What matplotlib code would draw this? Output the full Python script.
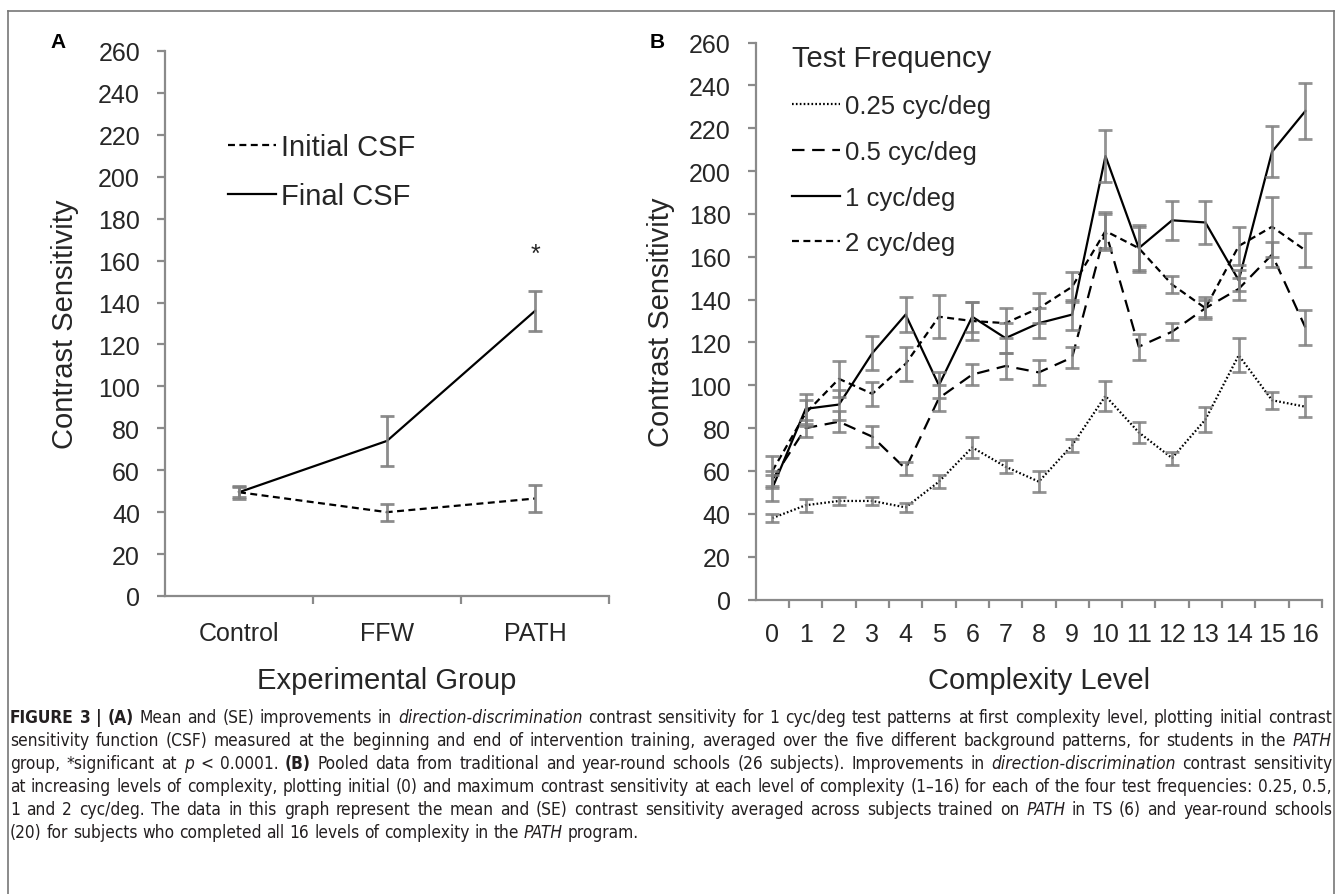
import matplotlib
matplotlib.use('Agg')
import matplotlib.pyplot as plt
from matplotlib.ticker import FixedLocator
from matplotlib.lines import Line2D
from matplotlib import font_manager

# ---------------- data ----------------
groups = ['Control', 'FFW', 'PATH']
initial_csf = [49.5, 40, 46.5]
initial_err = [3, 4, 6.5]
final_csf = [49.5, 74, 136]
final_err = [2.5, 12, 9.5]

levels = list(range(17))
cs_025 = [38, 44, 46, 46, 43, 55, 71, 62, 55, 72, 95, 78, 66, 84, 114, 93, 90]
err_025 = [2, 3, 2, 2, 2, 3, 5, 3, 5, 3, 7, 5, 3, 6, 8, 4, 5]
cs_05 = [56, 80, 83, 76, 61, 94, 105, 109, 106, 113, 172, 118, 125, 136, 145, 161, 127]
err_05 = [4, 4, 5, 5, 3, 6, 5, 6, 6, 5, 8, 6, 4, 4, 5, 6, 8]
cs_1 = [52, 89, 91, 115, 133, 100, 132, 122, 129, 133, 207, 164, 177, 176, 149, 209, 228]
err_1 = [6, 7, 7, 8, 8, 6, 7, 7, 7, 7, 12, 11, 9, 10, 5, 12, 13]
cs_2 = [60, 87, 103, 96, 110, 132, 130, 129, 136, 146, 172, 164, 147, 136, 165, 174, 163]
err_2 = [7, 6, 8.5, 5.5, 8, 10, 9, 7, 7, 7, 9, 10, 4, 5, 9, 14, 8]

yticks = list(range(0, 261, 20))
legendA = ['Initial CSF', 'Final CSF']
legendB_title = 'Test Frequency'
legendB = ['0.25 cyc/deg', '0.5 cyc/deg', '1 cyc/deg', '2 cyc/deg']

caption = [
    [("FIGURE 3 | (A)", 'b'), ("Mean and (SE) improvements in", 'n'), ("direction-discrimination", 'i'),
     ("contrast sensitivity for 1 cyc/deg test patterns at first complexity level, plotting initial contrast", 'n')],
    [("sensitivity function (CSF) measured at the beginning and end of intervention training, averaged over the five different background patterns, for students in the", 'n'), ("PATH", 'i')],
    [("group, *significant at", 'n'), ("p", 'i'), ("< 0.0001.", 'n'), ("(B)", 'b'),
     ("Pooled data from traditional and year-round schools (26 subjects). Improvements in", 'n'),
     ("direction-discrimination", 'i'), ("contrast sensitivity", 'n')],
    [("at increasing levels of complexity, plotting initial (0) and maximum contrast sensitivity at each level of complexity (1\u201316) for each of the four test frequencies: 0.25, 0.5,", 'n')],
    [("1 and 2 cyc/deg. The data in this graph represent the mean and (SE) contrast sensitivity averaged across subjects trained on", 'n'),
     ("PATH", 'i'), ("in TS (6) and year-round schools", 'n')],
    [("(20) for subjects who completed all 16 levels of complexity in the", 'n'), ("PATH", 'i'), ("program.", 'n')],
]

# ---------------- setup ----------------
plt.rcParams['font.family'] = ['Liberation Sans', 'DejaVu Sans']
plt.rcParams['lines.scale_dashes'] = False

W, H = 1341, 895
fig = plt.figure(figsize=(W / 100, H / 100), dpi=100)
fig.patch.set_facecolor('white')

def ax_px(l, t, r, b):
    return fig.add_axes([l / W, 1 - b / H, (r - l) / W, (b - t) / H])

AXC = '#8a8a8a'
TXT = '#262626'
ERRC = '#808080'

def style(ax, n, xpad):
    for s in ['top', 'right']:
        ax.spines[s].set_visible(False)
    for s in ['left', 'bottom']:
        ax.spines[s].set_color(AXC)
        ax.spines[s].set_linewidth(1.6)
    ax.set_ylim(0, 260)
    ax.set_yticks(yticks)
    ax.set_xlim(-0.5, n - 0.5)
    ax.set_xticks(range(n))
    ax.xaxis.set_minor_locator(FixedLocator([i + 0.5 for i in range(0, n)]))
    ax.tick_params(axis='x', which='major', length=0, pad=xpad, labelsize=18, labelcolor=TXT)
    ax.tick_params(axis='x', which='minor', length=6, width=1.6, color=AXC, direction='out')
    ax.tick_params(axis='y', length=6, width=1.6, color=AXC, labelsize=18, labelcolor=TXT, pad=12)

SHORT = (0, (5, 3.2))
LONG = (0, (9, 5.5))
DOT = (0, (1.2, 1.6))

# ---------------- panel A ----------------
axA = ax_px(165, 52, 609, 597)
style(axA, 3, 18)
xa = list(range(len(groups)))
lA1, = axA.plot(xa, initial_csf, color='black', lw=1.6, linestyle=SHORT, zorder=2)
lA2, = axA.plot(xa, final_csf, color='black', lw=1.6, linestyle='-', zorder=2)
for yv, ev in ((initial_csf, initial_err), (final_csf, final_err)):
    axA.errorbar(xa, yv, yerr=ev, fmt='none', ecolor=ERRC, elinewidth=2, capsize=5, capthick=2, zorder=3, alpha=0.9)
axA.set_xticklabels(groups)
axA.text(2, 160, '*', ha='center', va='baseline', fontsize=18, color=TXT)
legA = axA.legend([lA1, lA2], legendA, loc='upper left', bbox_to_anchor=(228 / W, 1 - 134 / H),
                  bbox_transform=fig.transFigure, frameon=False, fontsize=21, handlelength=1.65,
                  handletextpad=0.18, labelspacing=0.72, borderpad=0, borderaxespad=0)
for t in legA.get_texts():
    t.set_color(TXT)

# ---------------- panel B ----------------
axB = ax_px(755.7, 43.5, 1322, 600.5)
style(axB, 17, 16)
series = [(cs_025, err_025, DOT), (cs_05, err_05, LONG), (cs_1, err_1, '-'), (cs_2, err_2, SHORT)]
handles = []
for yv, ev, ls in series:
    h, = axB.plot(levels, yv, color='black', lw=1.6, linestyle=ls, zorder=2)
    handles.append(h)
for yv, ev, ls in series:
    axB.errorbar(levels, yv, yerr=ev, fmt='none', ecolor=ERRC, elinewidth=2, capsize=5, capthick=2, zorder=3, alpha=0.85)
axB.set_xticklabels([str(v) for v in levels])
legB = axB.legend(handles, legendB, title=legendB_title, loc='upper left', bbox_to_anchor=(791.7 / W, 1 - 45 / H),
                  bbox_transform=fig.transFigure, frameon=False, fontsize=18.5, title_fontsize=21,
                  handlelength=1.87, handletextpad=0.2, labelspacing=0.85, borderpad=0, borderaxespad=0,
                  alignment='left')
for t in legB.get_texts():
    t.set_color(TXT)
legB.get_title().set_color(TXT)

# ---------------- labels ----------------
fig.text(65 / W, 1 - 324 / H, 'Contrast Sensitivity', rotation=90, ha='center', va='center', fontsize=21, color=TXT)
fig.text(661 / W, 1 - 322 / H, 'Contrast Sensitivity', rotation=90, ha='center', va='center', fontsize=21, color=TXT)
fig.text(387 / W, 1 - 681 / H, 'Experimental Group', ha='center', va='center', fontsize=21, color=TXT)
fig.text(1039 / W, 1 - 681 / H, 'Complexity Level', ha='center', va='center', fontsize=21, color=TXT)
fig.text(50 / W, 1 - 43 / H, 'A', ha='left', va='center', fontsize=15, fontweight='bold', color='black')
fig.text(650 / W, 1 - 42 / H, 'B', ha='left', va='center', fontsize=15, fontweight='bold', color='black')

# border lines
BC = '#777777'
fig.add_artist(Line2D([8 / W, 1334 / W], [1 - 12 / H, 1 - 12 / H], transform=fig.transFigure, color=BC, lw=1.2))
fig.add_artist(Line2D([8 / W, 8 / W], [1 - 12 / H, 0], transform=fig.transFigure, color=BC, lw=1.2))
fig.add_artist(Line2D([1334 / W, 1334 / W], [1 - 12 / H, 0], transform=fig.transFigure, color=BC, lw=1.2))

# ---------------- caption (justified) ----------------
entries = font_manager.fontManager.ttflist
names = {f.name for f in entries}
cap_kw = {'family': ['Liberation Sans']}
if 'Liberation Sans Narrow' in names:
    cap_kw = {'family': ['Liberation Sans Narrow', 'Liberation Sans']}
elif any(f.name == 'DejaVu Sans' and str(f.stretch) in ('condensed', 'semi-condensed', '400', '500') for f in entries):
    cap_kw = {'family': ['DejaVu Sans'], 'fontstretch': 'condensed'}
renderer = fig.canvas.get_renderer()
CAPC = '#231f20'

def mk(x, y, word, st, size):
    return fig.text(x, y, word, fontsize=size, color=CAPC,
                    fontweight='bold' if st == 'b' else 'normal',
                    fontstyle='italic' if st == 'i' else 'normal', ha='left', va='center', **cap_kw)

def measure(word, st, size):
    t = mk(0, 0, word, st, size)
    w = t.get_window_extent(renderer).width
    t.remove()
    return w

line_words = [[(w, st) for seg, st in line for w in seg.split()] for line in caption]
x_left, x_right = 10, 1332
target = x_right - x_left
base = 12.0
sp0 = measure('a a', 'n', base) - 2 * measure('a', 'n', base)
nat = []
for words in line_words:
    nat.append(sum(measure(w, s, base) for w, s in words) + sp0 * (len(words) - 1))
size = base * target / max(nat[:5]) * 0.995
sp = measure('a a', 'n', size) - 2 * measure('a', 'n', size)
ys = [718, 741, 764, 787, 810, 833]
for i, words in enumerate(line_words):
    widths = [measure(w, s, size) for w, s in words]
    if i < 5 and len(words) > 1:
        gap = (target - sum(widths)) / (len(words) - 1)
    else:
        gap = sp
    x = x_left
    for (w, s), wd in zip(words, widths):
        mk(x / W, 1 - ys[i] / H, w, s, size)
        x += wd + gap

fig.savefig('out.png', dpi=100, facecolor='white')
